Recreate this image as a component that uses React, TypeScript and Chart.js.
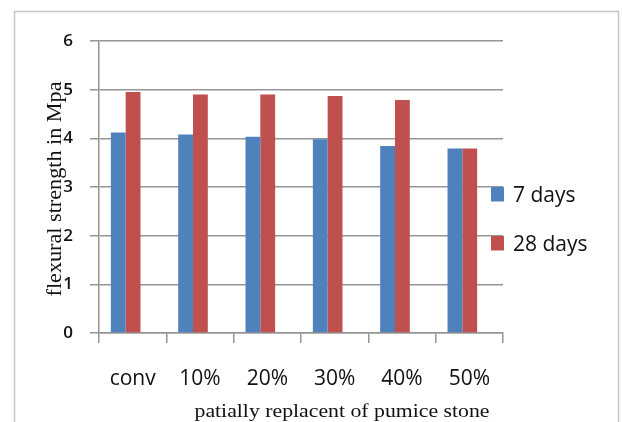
import React, { useEffect, useRef } from 'react';
import { Chart, registerables } from 'chart.js';

Chart.register(...registerables);

// ---- data ----
const categories = ['conv', '10%', '20%', '30%', '40%', '50%'];
const seriesLabels = ['7 days', '28 days'];
const days7 = [4.12, 4.08, 4.03, 3.98, 3.84, 3.79];
const days28 = [4.95, 4.9, 4.9, 4.87, 4.79, 3.79];
const seriesColors = ['#4F81BD', '#C0504D'];
const yMin = 0;
const yMax = 6;
const yStep = 1;
const xTitle = 'patially replacent of pumice stone';
const yTitle = 'flexural strength in Mpa';

const GRID = '#959595';
const TEXT = '#111111';

const shiftPlugin = {
  id: 'barShift',
  afterLayout(chart: any) {
    const s = chart.scales.xb;
    if (s) {
      s._startPixel -= 7;
      s._endPixel -= 7;
    }
  },
};

const decorPlugin = {
  id: 'decor',
  beforeDraw(chart: any) {
    const ctx = chart.ctx;
    ctx.save();
    ctx.fillStyle = '#ffffff';
    ctx.fillRect(0, 0, chart.width, chart.height);
    ctx.strokeStyle = '#c4c4c4';
    ctx.lineWidth = 1.5;
    ctx.strokeRect(14.5, 11.5, 604, 440);
    ctx.restore();
  },
  afterDraw(chart: any) {
    const ctx = chart.ctx;
    // y title
    ctx.save();
    ctx.fillStyle = TEXT;
    ctx.font = '20px "Liberation Serif"';
    ctx.textAlign = 'center';
    ctx.textBaseline = 'middle';
    let w = ctx.measureText(yTitle).width;
    ctx.translate(56, 189);
    ctx.rotate(-Math.PI / 2);
    ctx.scale(215 / w, 1);
    ctx.fillText(yTitle, 0, 0);
    ctx.restore();
    // x title
    ctx.save();
    ctx.fillStyle = TEXT;
    ctx.font = '18px "Liberation Serif"';
    ctx.textAlign = 'center';
    ctx.textBaseline = 'alphabetic';
    w = ctx.measureText(xTitle).width;
    ctx.translate(342, 417);
    ctx.scale(295 / w, 1);
    ctx.fillText(xTitle, 0, 0);
    ctx.restore();
    // legend
    ctx.save();
    chart.data.datasets.forEach((ds: any, i: number) => {
      const top = 187 + i * 49;
      ctx.fillStyle = ds.backgroundColor;
      ctx.fillRect(491, top, 13, 14.5);
      ctx.fillStyle = TEXT;
      ctx.font = '21px "Open Sans"';
      ctx.textAlign = 'left';
      ctx.textBaseline = 'alphabetic';
      ctx.fillText(ds.label, 513, top + 14.5);
    });
    ctx.restore();
  },
};

export default function App() {
  const ref = useRef<HTMLCanvasElement | null>(null);

  useEffect(() => {
    if (!ref.current) return;
    const chart = new Chart(ref.current, {
      type: 'bar',
      data: {
        labels: categories,
        datasets: [
          {
            label: seriesLabels[0],
            data: days7,
            backgroundColor: seriesColors[0],
            xAxisID: 'xb',
            yAxisID: 'y',
          },
          {
            label: seriesLabels[1],
            data: days28,
            backgroundColor: seriesColors[1],
            xAxisID: 'xb',
            yAxisID: 'y',
          },
        ],
      },
      options: {
        responsive: false,
        animation: false,
        devicePixelRatio: 1,
        layout: { padding: { left: 0, top: 41, right: 119, bottom: 0 } },
        datasets: {
          bar: { barPercentage: 1, categoryPercentage: 0.44 },
        },
        plugins: {
          legend: { display: false },
          tooltip: { enabled: false },
          title: { display: false },
        },
        scales: {
          x: {
            type: 'category',
            position: 'bottom',
            offset: true,
            afterFit: (s: any) => {
              s.height = 89;
            },
            grid: {
              offset: true,
              drawOnChartArea: false,
              drawTicks: true,
              tickLength: 10,
              color: GRID,
              lineWidth: 1.5,
            },
            border: { display: true, color: GRID, width: 1.5 },
            ticks: {
              padding: 23,
              color: TEXT,
              font: { family: '"Open Sans"', size: 21 },
              maxRotation: 0,
              autoSkip: false,
            },
          },
          xb: {
            type: 'category',
            position: 'bottom',
            offset: true,
            display: false,
            grid: { offset: true },
          },
          y: {
            type: 'linear',
            position: 'left',
            min: yMin,
            max: yMax,
            afterFit: (s: any) => {
              s.width = 99;
            },
            grid: {
              color: GRID,
              lineWidth: 1.5,
              drawTicks: true,
              tickLength: 9,
            },
            border: { display: true, color: GRID, width: 1.5 },
            ticks: {
              stepSize: yStep,
              padding: 17,
              color: TEXT,
              font: { family: '"Open Sans"', size: 17, weight: '600' },
            },
          },
        },
      },
      plugins: [shiftPlugin, decorPlugin],
    } as any);
    return () => chart.destroy();
  }, []);

  return (
    <div style={{ position: 'fixed', left: 0, top: 0, width: 622, height: 422 }}>
      <canvas ref={ref} width={622} height={422} style={{ display: 'block' }} />
    </div>
  );
}
